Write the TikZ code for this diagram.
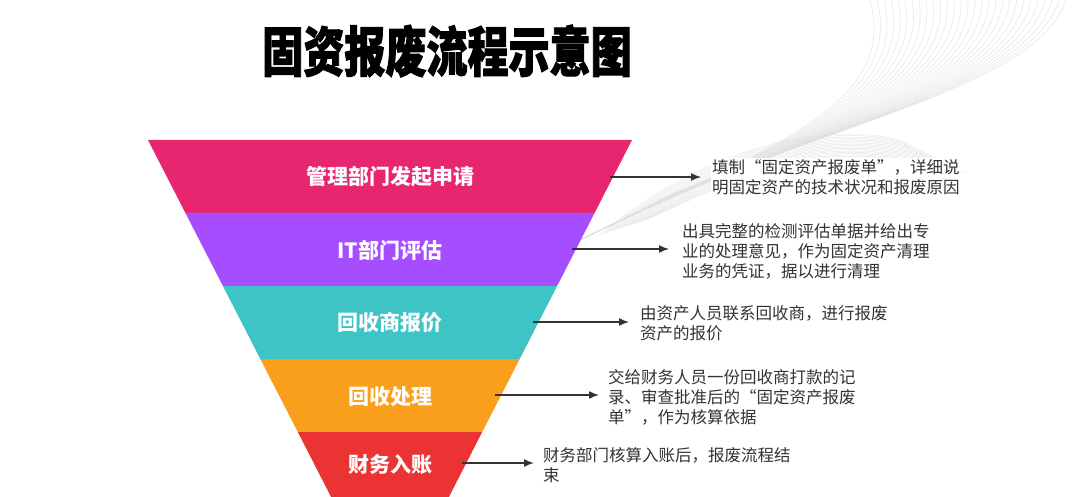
\documentclass[tikz,border=0pt]{standalone}
\usepackage{fontspec}
\setmainfont{Noto Sans CJK SC}
\newfontfamily\cjk{Noto Sans CJK SC}
\newfontfamily\cjktitle[FakeBold=2]{Noto Sans CJK SC}
\usetikzlibrary{arrows.meta}
\definecolor{cPink}{HTML}{E8256F}
\definecolor{cPurple}{HTML}{A64DFF}
\definecolor{cTeal}{HTML}{3FC4C6}
\definecolor{cOrange}{HTML}{FA9F1B}
\definecolor{cRed}{HTML}{EB3333}
\definecolor{cText}{HTML}{333333}
\definecolor{cSwirl}{HTML}{E0E0E0}
\tikzset{
  band/.style={draw=none},
  lab/.style={text=white, font=\cjk\bfseries\fontsize{21}{24}\selectfont, inner sep=0pt},
  desc/.style={text=cText, font=\cjk\fontsize{16.5}{20}\selectfont, align=left, anchor=west, inner sep=1pt, fill=white},
  conn/.style={draw=cText, line width=1.5pt, -{Latex[length=10pt,width=8pt]}},
}
\begin{document}
\begin{tikzpicture}[x=1pt,y=-1pt]
\useasboundingbox (0,0) rectangle (1076,497);
\fill[white] (0,0) rectangle (1076,497);
% decorative swirl
\foreach \i in {0,...,28}{
  \draw[cSwirl, line width=0.5pt, opacity=0.85]
    (870+7*\i,0) .. controls (900+5*\i,110-\i) and (760+3*\i,150-\i) .. (560+4*\i,250-2*\i);
}
\foreach \i in {0,...,16}{
  \draw[cSwirl, line width=0.5pt, opacity=0.75]
    (600+3*\i,235-\i) .. controls (700+4*\i,150+\i) and (820,120+\i) .. (900+4*\i,140+2*\i);
}
% title
\node (title) at (447,51) {\scalebox{0.76}[1]{\cjktitle\bfseries\fontsize{54}{60}\selectfont 固资报废流程示意图}};
% funnel bands
\fill[cPink]   (148,140) -- (632,140) -- (594.6,213) -- (185.4,213) -- cycle;
\fill[cPurple] (185.4,213) -- (594.6,213) -- (557.1,286) -- (222.9,286) -- cycle;
\fill[cTeal]   (222.9,286) -- (557.1,286) -- (519.7,359) -- (260.3,359) -- cycle;
\fill[cOrange] (260.3,359) -- (519.7,359) -- (482.2,432) -- (297.8,432) -- cycle;
\fill[cRed]    (297.8,432) -- (482.2,432) -- (448.9,497) -- (331.1,497) -- cycle;
% labels
\node[lab] (l1) at (390,177) {管理部门发起申请};
\node[lab] (l2) at (390,250) {IT部门评估};
\node[lab] (l3) at (390,323) {回收商报价};
\node[lab] (l4) at (390,397) {回收处理};
\node[lab] (l5) at (390,465) {财务入账};
% connector start points on the funnel edge
\coordinate (c1) at (610,177);
\coordinate (c2) at (572,249);
\coordinate (c3) at (533,322);
\coordinate (c4) at (495,395);
\coordinate (c5) at (462,463);
% descriptions
\node[desc] (t1) at (711,177) {填制“固定资产报废单”，详细说\\明固定资产的技术状况和报废原因};
\node[desc] (t2) at (681,251) {出具完整的检测评估单据并给出专\\业的处理意见，作为固定资产清理\\业务的凭证，据以进行清理};
\node[desc] (t3) at (639,323) {由资产人员联系回收商，进行报废\\资产的报价};
\node[desc] (t4) at (607,397) {交给财务人员一份回收商打款的记\\录、审查批准后的“固定资产报废\\单”，作为核算依据};
\node[desc] (t5) at (542,465) {财务部门核算入账后，报废流程结\\束};
% connectors
\draw[conn] (c1) -- ([xshift=-10pt]t1.west);
\draw[conn] (c2) -- ([xshift=-12pt]t2.west |- c2);
\draw[conn] (c3) -- ([xshift=-10pt]t3.west |- c3);
\draw[conn] (c4) -- ([xshift=-8pt]t4.west |- c4);
\draw[conn] (c5) -- ([xshift=-8pt]t5.west |- c5);
\end{tikzpicture}
\end{document}
